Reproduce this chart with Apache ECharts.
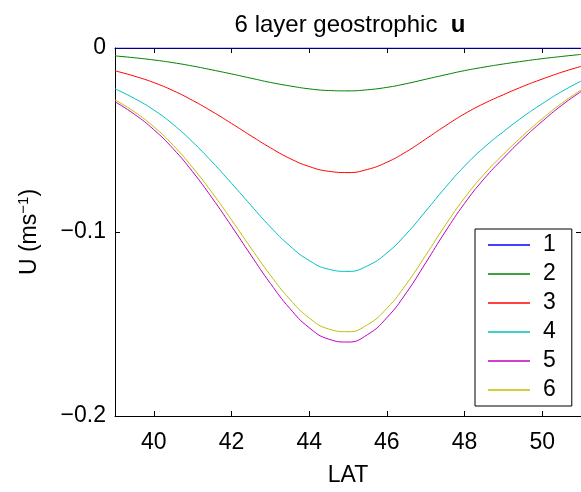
<!DOCTYPE html>
<html>
<head>
<meta charset="utf-8">
<script src="https://cdn.jsdelivr.net/npm/echarts@6/dist/echarts.min.js"></script>
<style>html,body{margin:0;padding:0;background:#fff;}#c{width:581px;height:492px;}</style>
</head>
<body>
<div id="c"></div>
<script>
// Latitudes (degrees)
var lat = [39, 39.5, 40, 40.5, 41, 41.5, 42, 42.5, 43, 43.5, 44, 44.5, 45, 45.5, 46, 46.5, 47, 47.5, 48, 48.5, 49, 49.5, 50, 50.5, 51];
// Layer velocities U (m/s)
var layer1 = [0, 0, 0, 0, 0, 0, 0, 0, 0, 0, 0, 0, 0, 0, 0, 0, 0, 0, 0, 0, 0, 0, 0, 0, 0];
var layer2 = [-0.0043, -0.0053, -0.0065, -0.0080, -0.0098, -0.0119, -0.0141, -0.0164, -0.0187, -0.0206, -0.0222, -0.0231, -0.0233, -0.0227, -0.0214, -0.0194, -0.0170, -0.0146, -0.0123, -0.0104, -0.0087, -0.0072, -0.0058, -0.0046, -0.0035];
var layer3 = [-0.0124, -0.0153, -0.0188, -0.0232, -0.0285, -0.0345, -0.0410, -0.0477, -0.0542, -0.0600, -0.0644, -0.0670, -0.0677, -0.0660, -0.0621, -0.0564, -0.0495, -0.0424, -0.0358, -0.0302, -0.0254, -0.0209, -0.0169, -0.0132, -0.0100];
var layer4 = [-0.0222, -0.0274, -0.0337, -0.0416, -0.0511, -0.0619, -0.0735, -0.0855, -0.0972, -0.1075, -0.1155, -0.1202, -0.1214, -0.1184, -0.1114, -0.1011, -0.0887, -0.0760, -0.0642, -0.0541, -0.0455, -0.0375, -0.0303, -0.0237, -0.0180];
var layer5 = [-0.0292, -0.0360, -0.0444, -0.0548, -0.0673, -0.0815, -0.0968, -0.1126, -0.1279, -0.1415, -0.1520, -0.1582, -0.1598, -0.1558, -0.1466, -0.1331, -0.1168, -0.1000, -0.0845, -0.0712, -0.0599, -0.0494, -0.0399, -0.0312, -0.0237];
var layer6 = [-0.0282, -0.0347, -0.0428, -0.0529, -0.0650, -0.0786, -0.0934, -0.1087, -0.1234, -0.1365, -0.1467, -0.1527, -0.1542, -0.1504, -0.1415, -0.1284, -0.1127, -0.0965, -0.0815, -0.0687, -0.0578, -0.0477, -0.0385, -0.0301, -0.0229];
var layerNames = ['1', '2', '3', '4', '5', '6'];
var xTicks = [40, 42, 44, 46, 48, 50];
var yTicks = [0, -0.1, -0.2];
var yTickLabels = ['0', '\u22120.1', '\u22120.2'];

var colors = ['#0000ff', '#008000', '#ff0000', '#00bfbf', '#bf00bf', '#bfbf00'];
var layers = [layer1, layer2, layer3, layer4, layer5, layer6];
var FONT = 'Liberation Sans, Arial, Helvetica, sans-serif';

function pairs(vals) {
  return lat.map(function (x, i) { return [x, vals[i]]; });
}

var series = layers.map(function (vals, k) {
  return {
    name: layerNames[k],
    type: 'line',
    data: pairs(vals),
    smooth: 0.5,
    symbol: 'none',
    showSymbol: false,
    xAxisIndex: 0,
    yAxisIndex: 0,
    lineStyle: { color: colors[k], width: 1 },
    itemStyle: { color: colors[k] },
    z: 3 + k,
    clip: true
  };
});

var chart = echarts.init(document.getElementById('c'), null, { renderer: 'canvas' });
chart.setOption({
  animation: false,
  backgroundColor: '#ffffff',
  textStyle: { fontFamily: FONT },
  title: {
    text: '6 layer geostrophic  {b|u}',
    left: 350,
    textAlign: 'center',
    top: 13,
    padding: 0,
    textStyle: {
      fontFamily: FONT, fontSize: 24, fontWeight: 'normal', color: '#000',
      rich: { b: { fontFamily: FONT, fontSize: 24, fontWeight: 'bold', color: '#000' } }
    }
  },
  legend: {
    orient: 'vertical',
    left: 475,
    top: 229,
    padding: [4, 16, 4, 13],
    icon: 'rect',
    itemWidth: 42,
    itemHeight: 1.5,
    itemGap: 5,
    backgroundColor: '#ffffff',
    borderColor: '#000000',
    borderWidth: 1,
    borderRadius: 0,
    data: layerNames,
    textStyle: { fontFamily: FONT, fontSize: 23, color: '#000', lineHeight: 24, padding: [0, 0, 0, 8] }
  },
  grid: { left: 115, right: -4, top: 48, bottom: 74, containLabel: false },
  xAxis: [{
    type: 'value', position: 'bottom', min: 39, max: 51,
    name: 'LAT', nameLocation: 'middle', nameGap: 48,
    nameTextStyle: { fontFamily: FONT, fontSize: 23, color: '#000' },
    axisLine: { onZero: false, lineStyle: { color: '#000', width: 1 } },
    axisTick: { inside: true, length: 5, customValues: xTicks, lineStyle: { color: '#000' } },
    axisLabel: { customValues: xTicks, margin: 15, fontFamily: FONT, fontSize: 23, color: '#000' },
    splitLine: { show: false }
  }, {
    type: 'value', position: 'top', min: 39, max: 51,
    axisLine: { onZero: false, lineStyle: { color: '#000', width: 1 } },
    axisTick: { inside: true, length: 5, customValues: xTicks, lineStyle: { color: '#000' } },
    axisLabel: { show: false },
    splitLine: { show: false }
  }],
  yAxis: [{
    type: 'value', position: 'left', min: -0.2, max: 0, interval: 0.1,
    name: 'U (ms{sup|\u22121})', nameLocation: 'middle', nameGap: 72, nameRotate: 90,
    nameTextStyle: {
      fontFamily: FONT, fontSize: 23, color: '#000',
      rich: { sup: { fontFamily: FONT, fontSize: 15, color: '#000', padding: [0, 0, 12, 0] } }
    },
    axisLine: { onZero: false, lineStyle: { color: '#000', width: 1 } },
    axisTick: { inside: true, length: 5, customValues: yTicks, lineStyle: { color: '#000' } },
    axisLabel: {
      customValues: yTicks, margin: 9, fontFamily: FONT, fontSize: 23, color: '#000',
      formatter: function (v) { var i = yTicks.indexOf(Math.round(v * 10) / 10); return i >= 0 ? yTickLabels[i] : ''; }
    },
    splitLine: { show: false }
  }, {
    type: 'value', position: 'right', min: -0.2, max: 0, interval: 0.1,
    axisLine: { onZero: false, lineStyle: { color: '#000', width: 1 } },
    axisTick: { inside: true, length: 5, customValues: yTicks, lineStyle: { color: '#000' } },
    axisLabel: { show: false },
    splitLine: { show: false }
  }],
  series: series
});
</script>
</body>
</html>
